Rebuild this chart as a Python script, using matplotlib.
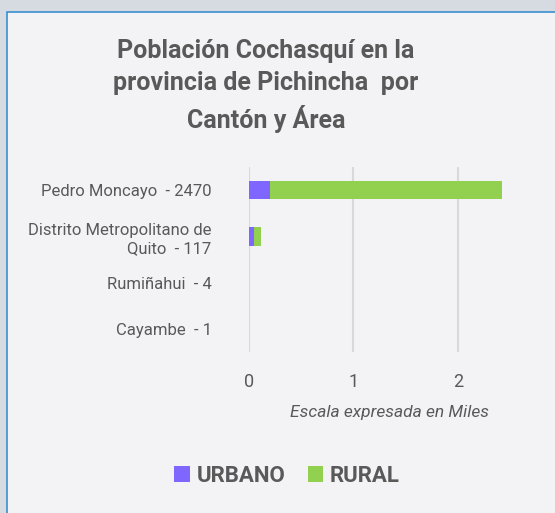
import matplotlib
matplotlib.use("Agg")
import matplotlib.pyplot as plt
from matplotlib.patches import Rectangle

categories = ["Pedro Moncayo  - 2470", "Distrito Metropolitano de\nQuito  - 117", "Rumiñahui  - 4", "Cayambe  - 1"]
urbano = [0.20, 0.05, 0.004, 0.0]
rural = [2.22, 0.067, 0.0, 0.001]
xticks = [0, 1, 2]
series_names = ["URBANO", "RURAL"]

W, H = 555, 513
fig = plt.figure(figsize=(W / 100, H / 100), dpi=100)
fig.patch.set_facecolor("#d6dae1")
panel = Rectangle((7 / W, -0.01), 1.0, 1 - 12 / H + 0.01, transform=fig.transFigure,
                  facecolor="#f3f3f5", edgecolor="#3a8fd0", linewidth=1.2, zorder=-5)
fig.patches.append(panel)

gray = "#595959"
ax = fig.add_axes([249 / W, 1 - 352 / H, 281 / W, 185 / H])
ax.set_zorder(2)
ax.set_facecolor("none")
y = list(range(len(categories)))
ax.barh(y, urbano, height=0.4, color="#7f66ff", label=series_names[0], zorder=3)
ax.barh(y, rural, left=urbano, height=0.4, color="#92d050", label=series_names[1], zorder=3)
ax.set_ylim(3.5, -0.5)
ax.set_xlim(0, 2.69)
ax.set_xticks(xticks)
ax.set_xticklabels([str(t) for t in xticks], fontsize=13, color=gray, family="Roboto", fontweight="normal")
ax.set_yticks(y)
ax.set_yticklabels(categories, fontsize=12, color=gray, family="Roboto", fontweight="normal", linespacing=1.3)
ax.tick_params(axis="both", length=0)
ax.tick_params(axis="y", pad=27)
ax.tick_params(axis="x", pad=15)
for s in ax.spines.values():
    s.set_visible(False)
ax.grid(axis="x", color="#d9d9d9", linewidth=1.5, zorder=0)
ax.set_axisbelow(True)
ax.set_xlabel("Escala expresada en Miles", fontsize=12.5, color=gray, family="Roboto", style="italic", labelpad=10)

fig.text(266 / W, 1 - 86 / H, "Población Cochasquí en la\nprovincia de Pichincha  por\nCantón y Área",
         ha="center", va="center", fontsize=18, fontweight="bold", color=gray, family="Roboto", linespacing=1.45)

leg = fig.legend(loc="center", bbox_to_anchor=(287 / W, 1 - 476 / H), ncol=2, frameon=False,
                 prop={"family": "Roboto", "weight": "bold", "size": 16}, handlelength=0.7, handleheight=0.7,
                 handletextpad=0.3, columnspacing=1.0)
for t in leg.get_texts():
    t.set_color(gray)

fig.savefig("out.png", dpi=100, facecolor=fig.get_facecolor())
